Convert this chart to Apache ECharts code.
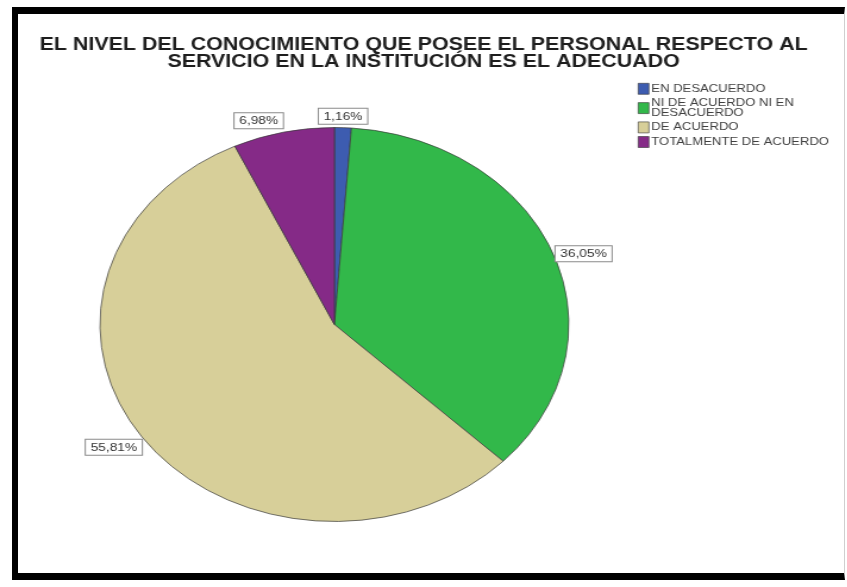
<!DOCTYPE html>
<html>
<head>
<meta charset="utf-8">
<script src="https://cdn.jsdelivr.net/npm/echarts@6/dist/echarts.min.js"></script>
<style>
  html, body { margin: 0; padding: 0; background: #ffffff; overflow: hidden; }
  #frame {
    position: absolute; left: 12px; top: 7px; width: 833px; height: 573px;
    border-top: 7px solid #000; border-left: 6px solid #000; border-bottom: 7px solid #000;
    border-right: 1px solid #cfcfcf; box-sizing: border-box;
  }
  /* the exported chart is stretched horizontally, so the plot is laid out
     narrower and widened with a transform */
  #chart {
    position: absolute; left: 0; top: 0; width: 712px; height: 587px;
    transform: scaleX(1.19); transform-origin: 0 0;
  }
</style>
</head>
<body>
<div id="frame"></div>
<div id="chart"></div>
<script>
const titleLines = [
  'EL NIVEL DEL CONOCIMIENTO QUE POSEE EL PERSONAL RESPECTO AL',
  'SERVICIO EN LA INSTITUCIÓN ES EL ADECUADO'
];
const categories = [
  'EN DESACUERDO',
  'NI DE ACUERDO NI EN DESACUERDO',
  'DE ACUERDO',
  'TOTALMENTE DE ACUERDO'
];
const percentages = [1.16, 36.05, 55.81, 6.98];
const sliceColors = ['#3d5cb0', '#32b84a', '#d7cf99', '#852a87'];

const pieCenter = [281, 324.5];
const pieRadius = 197;
const FONT = '"Liberation Sans", Arial, Helvetica, sans-serif';

const total = percentages.reduce((a, b) => a + b, 0);

// mid angle of slice i, measured clockwise from 12 o'clock
function midAngle(i) {
  let before = 0;
  for (let k = 0; k < i; k++) before += percentages[k];
  return ((before + percentages[i] / 2) / total) * Math.PI * 2;
}

const chart = echarts.init(document.getElementById('chart'), null, { renderer: 'canvas' });

chart.setOption({
  backgroundColor: 'transparent',
  animation: false,
  title: {
    text: titleLines.join('\n'),
    left: 'center',
    top: 37,
    padding: 0,
    textStyle: {
      fontFamily: FONT, fontSize: 18, fontWeight: 'bold',
      color: '#1e1e1e', lineHeight: 17
    }
  },
  legend: {
    orient: 'vertical',
    left: 536,
    top: 83,
    padding: 0,
    itemWidth: 9,
    itemHeight: 11,
    itemGap: 3,
    icon: 'rect',
    selectedMode: false,
    data: categories,
    formatter: function (name) {
      if (name.length <= 24) return name;
      const cut = name.lastIndexOf(' ', 20);
      return name.slice(0, cut) + '\n' + name.slice(cut + 1);
    },
    itemStyle: { borderColor: '#333', borderWidth: 0.6 },
    textStyle: {
      fontFamily: FONT, fontSize: 11, color: '#404040',
      lineHeight: 10, padding: [0, 0, 0, -3]
    }
  },
  series: [{
    type: 'pie',
    center: pieCenter,
    radius: pieRadius,
    startAngle: 90,
    clockwise: true,
    avoidLabelOverlap: false,
    data: categories.map((name, i) => ({
      name: name,
      value: percentages[i],
      itemStyle: { color: sliceColors[i] }
    })),
    itemStyle: { borderColor: '#3a3a3a', borderWidth: 0.7 },
    emphasis: { disabled: true },
    label: {
      show: true,
      position: 'outside',
      formatter: p => p.value.toFixed(2).replace('.', ',') + '%',
      fontFamily: FONT, fontSize: 11.5, color: '#333',
      backgroundColor: '#fff',
      borderColor: '#8a8a8a', borderWidth: 1,
      padding: [2, 4, 1, 4]
    },
    labelLine: { show: false },
    labelLayout: function (params) {
      const a = midAngle(params.dataIndex);
      const sx = Math.sin(a), cy = Math.cos(a);
      const x = pieCenter[0] + (pieRadius + 2) * sx;
      const y = pieCenter[1] - (pieRadius + (cy > 0.45 ? 4 : 1)) * cy;
      return {
        x: x,
        y: y,
        align: Math.abs(sx) < 0.1 ? 'center' : (sx > 0 ? 'left' : 'right'),
        verticalAlign: Math.abs(cy) < 0.45 ? 'middle' : (cy > 0 ? 'bottom' : 'top')
      };
    }
  }]
});
</script>
</body>
</html>
